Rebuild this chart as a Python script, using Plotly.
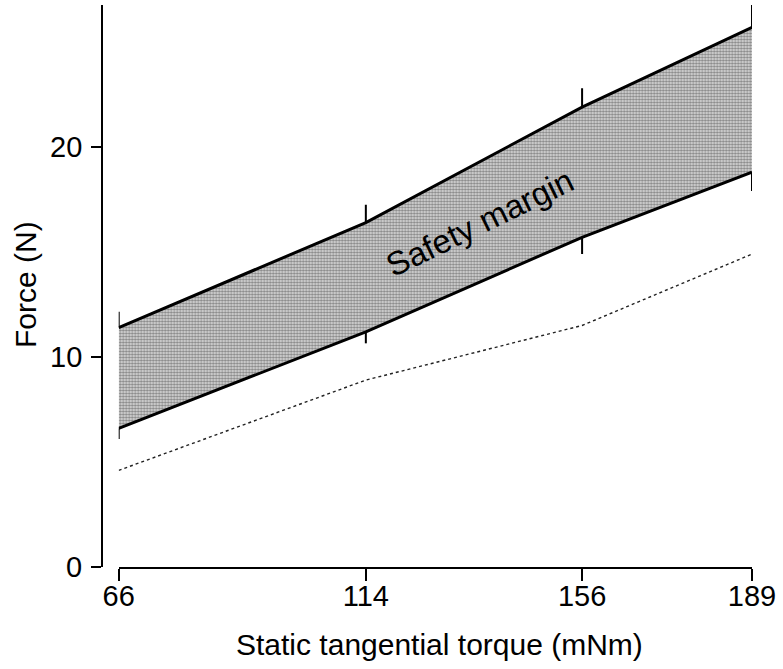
import plotly.graph_objects as go

# Data
torque = [66, 114, 156, 189]                 # Static tangential torque (mNm)
upper_force = [11.4, 16.4, 21.9, 25.7]       # upper boundary of safety margin (N)
upper_err = [0.75, 0.85, 0.9, 1.4]
lower_force = [6.6, 11.2, 15.7, 18.8]        # lower boundary (N)
lower_err = [0.5, 0.55, 0.8, 0.9]
slip_force = [4.6, 8.9, 11.5, 14.9]          # dotted line (N)
zeros = [0, 0, 0, 0]

x_ticks = [66, 114, 156, 189]
y_ticks = [0, 10, 20]

W, H = 783, 669
ML, MR, MT, MB = 102, 31, 5, 102
plot_w = W - ML - MR
plot_h = H - MT - MB
x_dom0 = (118.7 - ML) / plot_w

tick_font = dict(family="Liberation Sans, Arial, Helvetica", size=29, color="black")
text_font = dict(family="Liberation Sans, Arial, Helvetica", size=30, color="black")

fig = go.Figure()

fig.add_trace(go.Scatter(
    x=torque, y=lower_force, mode="lines",
    line=dict(color="black", width=3),
    error_y=dict(type="data", symmetric=False, array=zeros, arrayminus=lower_err,
                 color="black", thickness=2, width=0),
    cliponaxis=False, showlegend=False, hoverinfo="skip"))

fig.add_trace(go.Scatter(
    x=torque, y=upper_force, mode="lines",
    line=dict(color="black", width=3),
    fill="tonexty",
    fillcolor="#b8b8b8",
    fillpattern=dict(shape=".", fgcolor="#2e2e2e", bgcolor="#dedede", size=3, solidity=0.5),
    error_y=dict(type="data", symmetric=False, array=upper_err, arrayminus=zeros,
                 color="black", thickness=2, width=0),
    cliponaxis=False, showlegend=False, hoverinfo="skip"))

fig.add_trace(go.Scatter(
    x=torque, y=slip_force, mode="lines",
    line=dict(color="#222222", width=1.4, dash="dot"),
    showlegend=False, hoverinfo="skip"))

fig.add_annotation(x=136.2, y=16.4, xref="x", yref="y", text="Safety margin",
                   showarrow=False, textangle=-26,
                   font=dict(family=text_font["family"], size=33, color="black"))

# y tick labels placed next to the ticks
for v in y_ticks:
    fig.add_annotation(x=(84 - ML) / plot_w, y=v, xref="paper", yref="y", text=str(v),
                       showarrow=False, xanchor="right", yanchor="middle", font=tick_font)

# axis titles
fig.add_annotation(x=(439 - ML) / plot_w, y=(567 - 645) / plot_h, xref="paper", yref="paper",
                   text="Static tangential torque (mNm)", showarrow=False,
                   xanchor="center", yanchor="middle", font=text_font)
fig.add_annotation(x=(25 - ML) / plot_w, y=(567 - 285) / plot_h, xref="paper", yref="paper",
                   text="Force (N)", showarrow=False, textangle=-90,
                   xanchor="center", yanchor="middle", font=text_font)

fig.update_layout(
    width=W, height=H,
    margin=dict(l=ML, r=MR, t=MT, b=MB),
    paper_bgcolor="white", plot_bgcolor="white",
    xaxis=dict(domain=[x_dom0, 1], range=[66, 189], tickvals=x_ticks, ticktext=[str(v) for v in x_ticks],
               showline=True, linecolor="black", linewidth=2,
               ticks="outside", ticklen=12, tickwidth=2, tickcolor="black",
               ticklabelstandoff=-10,
               showgrid=False, zeroline=False, tickfont=tick_font, anchor="y"),
    yaxis=dict(range=[0, 26.76], tickvals=y_ticks, anchor="free", position=0,
               showline=True, linecolor="black", linewidth=2,
               ticks="outside", ticklen=10, tickwidth=2, tickcolor="black",
               showticklabels=False,
               showgrid=False, zeroline=False),
)

fig.write_html("out.html", config={"displayModeBar": False},
               post_script="document.body.style.margin='0';")
